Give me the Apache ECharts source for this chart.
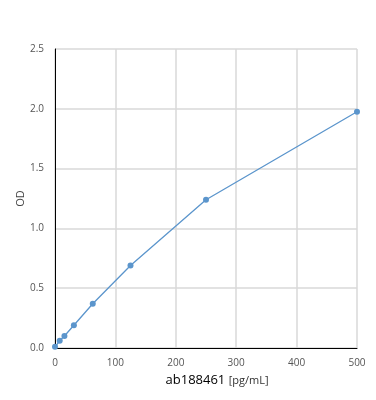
<!DOCTYPE html>
<html>
<head>
<meta charset="utf-8">
<script src="https://cdn.jsdelivr.net/npm/echarts@6/dist/echarts.min.js"></script>
<style>
  html, body { margin: 0; padding: 0; background: #fff; }
  #chart { width: 376px; height: 400px; }
</style>
</head>
<body>
<div id="chart"></div>
<script>
// standard curve, concentration in pg/mL vs OD
var concentrations = [0, 7.8, 15.6, 31.25, 62.5, 125, 250, 500];
var odValues = [0.01, 0.06, 0.10, 0.19, 0.37, 0.69, 1.24, 1.975];

var points = concentrations.map(function (c, i) { return [c, odValues[i]]; });

var chart = echarts.init(document.getElementById('chart'));
var option = {
    animation: false,
    grid: { left: 55, right: 19, top: 49, bottom: 52 },
    xAxis: {
        type: 'value',
        min: 0,
        max: 500,
        interval: 100,
        name: '{main|ab188461} {unit|[pg/mL]}',
        nameLocation: 'middle',
        nameGap: 26,
        nameTextStyle: {
            padding: [0, 0, 0, 22],
            rich: {
                main: { fontSize: 13, color: '#000', fontFamily: 'Open Sans' },
                unit: { fontSize: 11, color: '#333', fontFamily: 'Open Sans' }
            }
        },
        axisLine: { lineStyle: { color: '#000', width: 1 } },
        axisTick: { show: false },
        axisLabel: { color: '#555', fontSize: 10, margin: 10, fontFamily: 'Open Sans' },
        splitLine: { show: true, lineStyle: { color: '#d9d9d9', width: 1.5 } }
    },
    yAxis: {
        type: 'value',
        min: 0,
        max: 2.5,
        interval: 0.5,
        name: 'OD',
        nameLocation: 'middle',
        nameGap: 29,
        nameMoveOverlap: false,
        nameTextStyle: { color: '#444', fontSize: 11, fontFamily: 'Open Sans' },
        axisLine: { show: true, lineStyle: { color: '#000', width: 1 } },
        axisTick: { show: false },
        axisLabel: {
            color: '#555', fontSize: 10, margin: 11, fontFamily: 'Open Sans',
            formatter: function (v) { return v.toFixed(1); }
        },
        splitLine: { show: true, lineStyle: { color: '#d9d9d9', width: 1.5 } }
    },
    series: [
        {
            type: 'line',
            data: points,
            symbol: 'circle',
            symbolSize: 6,
            lineStyle: { color: '#5b95cc', width: 1.3 },
            itemStyle: { color: '#5b95cc' }
        }
    ]
};
chart.setOption(option);
</script>
</body>
</html>
